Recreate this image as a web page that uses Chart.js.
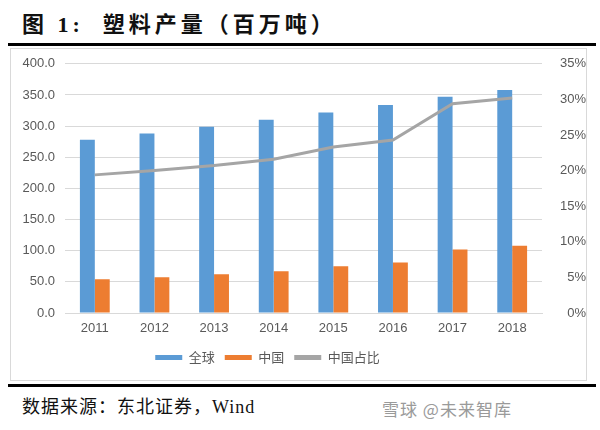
<!DOCTYPE html>
<html>
<head>
<meta charset="utf-8">
<script src="https://cdn.jsdelivr.net/npm/chart.js@4"></script>
<style>
  body { margin: 0; width: 600px; height: 430px; background: #fff; position: relative; overflow: hidden; }
  .title { position: absolute; left: 22px; top: 6px; font: bold 22px "Liberation Serif", "Noto Sans CJK SC", serif; color: #111; white-space: pre; letter-spacing: 4px; }
  .rule { position: absolute; left: 8px; width: 588px; background: #000; }
  .box { position: absolute; left: 10px; top: 48px; width: 575px; height: 331px; border: 1px solid #d9d9d9; }
  .box canvas { position: absolute; left: 0; top: -3px; }
  .src { position: absolute; left: 22px; top: 392px; font: 18px "Liberation Serif", "Noto Sans CJK SC", serif; color: #111; letter-spacing: 1px; }
  .mark { position: absolute; left: 382px; top: 396px; font: 17px "Noto Sans CJK SC", sans-serif; color: #9a9a9a; letter-spacing: 1px; }
</style>
</head>
<body>
<div class="title">图 1:  塑料产量（百万吨）</div>
<div class="rule" style="top:43px;height:3px"></div>
<div class="box"><canvas id="c" width="575" height="334"></canvas></div>
<div class="rule" style="top:384px;height:3px"></div>
<div class="src">数据来源：东北证券，Wind</div>
<div class="mark">雪球 @未来智库</div>
<script>
const years = ['2011', '2012', '2013', '2014', '2015', '2016', '2017', '2018']
const globalOutput = [278, 288, 299, 310, 322, 334, 347, 358]
const chinaOutput = [54, 57.5, 62, 67, 75, 81, 102, 108]
const chinaShare = [19.4, 20.0, 20.7, 21.6, 23.3, 24.3, 29.4, 30.2]

const gridColor = '#d9d9d9'
const tickColor = '#595959'
const tickFont = { family: 'Liberation Sans, Arial, sans-serif', size: 13 }

// Excel puts the legend a bit left of centre
const legendShift = {
  id: 'legendShift',
  afterLayout(chart) {
    chart.legend.left -= 31
    chart.legend.right -= 31
  }
}

new Chart(document.getElementById('c').getContext('2d'), {
  data: {
    labels: years,
    datasets: [
      { type: 'bar', label: '全球', data: globalOutput, backgroundColor: '#5b9bd5', yAxisID: 'y', order: 1, barPercentage: 1, categoryPercentage: 0.5 },
      { type: 'bar', label: '中国', data: chinaOutput, backgroundColor: '#ed7d31', yAxisID: 'y', order: 1, barPercentage: 1, categoryPercentage: 0.5 },
      { type: 'line', label: '中国占比', data: chinaShare, borderColor: '#a5a5a5', backgroundColor: '#a5a5a5', borderWidth: 3, pointRadius: 0, yAxisID: 'y1', order: 0, tension: 0 }
    ]
  },
  options: {
    responsive: false,
    animation: false,
    layout: { padding: { top: 0, left: 0, right: 0, bottom: 6 } },
    scales: {
      x: {
        afterFit: s => { s.height = 28 },
        grid: { display: false, drawTicks: false, tickLength: 0 },
        border: { color: gridColor },
        ticks: { color: tickColor, font: tickFont, padding: 8 }
      },
      y: {
        position: 'left', min: 0, max: 400,
        afterFit: s => { s.width = 54 },
        grid: { color: gridColor, drawTicks: false, tickLength: 0 },
        border: { display: false },
        ticks: { stepSize: 50, color: tickColor, font: tickFont, padding: 10, callback: v => v.toFixed(1) }
      },
      y1: {
        position: 'right', min: 0, max: 35,
        afterFit: s => { s.width = 44 },
        grid: { display: false, drawTicks: false, tickLength: 0 },
        border: { display: false },
        ticks: { stepSize: 5, color: tickColor, font: tickFont, padding: 10, crossAlign: 'far', callback: v => v + '%' }
      }
    },
    plugins: {
      legend: {
        position: 'bottom',
        labels: {
          boxWidth: 27, boxHeight: 5, color: tickColor, padding: 10,
          font: { family: 'Noto Sans CJK SC', size: 13 },
          sort: (a, b) => a.datasetIndex - b.datasetIndex,
          generateLabels: chart => Chart.defaults.plugins.legend.labels.generateLabels(chart).map(it => ({ ...it, lineWidth: 0 }))
        }
      },
      tooltip: { enabled: false }
    }
  },
  plugins: [legendShift]
})
</script>
</body>
</html>
